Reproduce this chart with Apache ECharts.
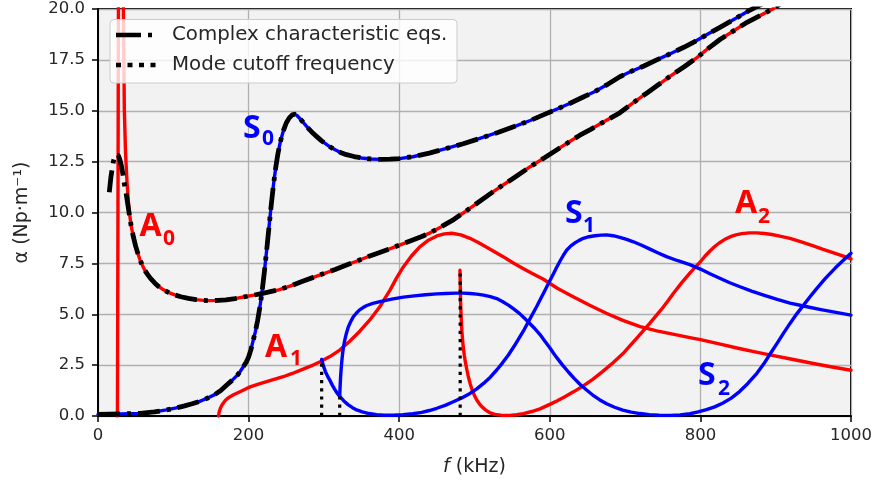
<!DOCTYPE html>
<html>
<head>
<meta charset="utf-8">
<script src="https://cdn.jsdelivr.net/npm/echarts@6/dist/echarts.min.js"></script>
<style>
  html, body { margin: 0; padding: 0; background: #ffffff; }
  #chart { width: 875px; height: 487px; }
</style>
</head>
<body>
<div id="chart"></div>
<script>
// Attenuation alpha (Np/m) versus frequency f (kHz) for Lamb-type modes.

// Roots of the complex characteristic equations (drawn dash-dot in black).
const a0Complex = [[15,11.0],[17,11.7],[19,12.2],[21,12.6],[23,12.85],[25,12.9],[27,12.8],[29,12.6],[31,12.3],[33,11.9],[35,11.4],[37.5,10.9],[40,10.3],[42,9.8],[44,9.35],[47,8.8],[50,8.35],[53,7.98],[56,7.65],[59,7.4],[62,7.17],[66,6.95],[70,6.75],[75,6.55],[80,6.38],[87,6.2],[95,6.05],[102,5.95],[110,5.86],[120,5.78],[130,5.72],[140,5.68],[150,5.67],[160,5.68],[170,5.71],[182,5.77],[195,5.86],[207,5.94],[220,6.04],[240,6.2],[255,6.38],[270,6.6],[285,6.8],[300,7.0],[315,7.2],[330,7.42],[345,7.63],[360,7.85],[375,8.05],[390,8.25],[404,8.45],[418,8.65],[430,8.82],[441,9.0],[455,9.28],[470,9.6],[488,10.05],[507,10.55],[524,11.0],[540,11.4],[557,11.82],[574,12.25],[592,12.67],[610,13.1],[625,13.45],[640,13.8],[655,14.1],[670,14.42],[693,14.9],[711,15.4],[730,15.9],[745,16.3],[760,16.7],[778,17.15],[795,17.6],[810,18.05],[826,18.5],[843,18.9],[860,19.3],[878,19.65],[896,20.0],[920,20.6]];
const s0Complex = [[0,0.08],[30,0.1],[56,0.13],[75,0.2],[91,0.3],[104,0.4],[115,0.5],[125,0.6],[135,0.72],[145,0.87],[155,1.05],[163,1.25],[171,1.52],[178,1.75],[185,2.0],[189,2.2],[193,2.42],[197,2.65],[200,2.9],[203,3.25],[206,3.7],[209,4.15],[212,4.7],[215,5.35],[218,6.15],[221,7.1],[224,8.15],[227,9.25],[230,10.35],[233,11.35],[236,12.2],[239,12.9],[242,13.45],[246,14.0],[250,14.4],[254,14.65],[258,14.8],[261,14.83],[264,14.78],[268,14.62],[272,14.45],[279,14.15],[286,13.88],[292,13.68],[297,13.52],[303,13.36],[308,13.23],[315,13.08],[322,12.95],[330,12.84],[340,12.75],[350,12.68],[362,12.63],[375,12.61],[388,12.62],[400,12.65],[418,12.74],[440,12.92],[463,13.15],[485,13.38],[507,13.64],[530,13.92],[551,14.2],[574,14.52],[596,14.87],[612,15.12],[627,15.37],[643,15.65],[660,15.95],[677,16.3],[693,16.67],[709,16.95],[725,17.2],[742,17.5],[760,17.8],[778,18.12],[795,18.45],[810,18.77],[826,19.1],[846,19.52],[866,19.95],[890,20.4]];

// Real-frequency mode branches.
const a0Spike = [[25.8,0],[26.5,10],[27.2,21]];
const a0Head = [[33.5,21],[34.2,18],[35,15],[36.5,13],[38.5,11.5],[41,10.2]];
const a1 = [[160,0],[161,0.2],[162.5,0.38],[164.5,0.53],[166.5,0.64],[169,0.76],[172,0.86],[176,0.96],[180,1.04],[185,1.13],[190,1.22],[196,1.33],[202,1.43],[213,1.57],[225,1.7],[235,1.81],[246,1.93],[258,2.09],[270,2.27],[283,2.46],[295,2.67],[308,2.92],[321,3.24],[334,3.66],[348,4.18],[361,4.72],[374.5,5.38],[381,5.78],[388,6.2],[396,6.75],[405,7.3],[416,7.85],[427,8.3],[438,8.62],[450,8.85],[460,8.95],[470,8.98],[482,8.9],[494,8.73],[505,8.53],[515,8.32],[526,8.08],[538,7.83],[551,7.53],[565,7.24],[578,6.98],[591,6.73],[610,6.28],[631,5.86],[653,5.44],[675,5.05],[697,4.7],[720,4.39],[742,4.18],[765,4.01],[786,3.85],[800,3.75],[825,3.54],[850,3.33],[871,3.16],[892,3.0],[920,2.8],[950,2.58],[975,2.41],[1000,2.25]];
const a2 = [[480.7,7.17],[481.2,6.3],[481.6,5.5],[482.3,4.85],[483,4.3],[484,3.8],[485,3.4],[486.5,2.97],[488,2.62],[490,2.25],[491.8,1.93],[494.5,1.56],[497,1.27],[500,1.0],[503,0.79],[506.5,0.6],[510,0.45],[515,0.29],[520,0.17],[527,0.08],[535,0.04],[547,0.03],[556,0.06],[565,0.12],[576,0.22],[587,0.35],[600,0.57],[610,0.75],[620,0.95],[632,1.2],[644.5,1.48],[657,1.8],[670,2.18],[684,2.62],[697.6,3.08],[706,3.43],[715,3.8],[724,4.18],[733,4.56],[741,4.92],[750,5.32],[757,5.66],[764,6.02],[775,6.54],[786,7.02],[793,7.3],[800,7.58],[806,7.85],[813,8.12],[819,8.33],[825,8.5],[832,8.67],[839,8.8],[847,8.9],[855,8.96],[865,9.0],[875,9.0],[885,8.97],[895,8.92],[907,8.83],[919,8.73],[934,8.56],[950,8.36],[962,8.2],[975,8.04],[987,7.89],[1000,7.72]];
const s1 = [[297,2.78],[299.5,2.45],[302,2.18],[305,1.95],[308,1.75],[311,1.53],[314,1.33],[317.5,1.13],[321,0.96],[326.5,0.74],[332,0.56],[338,0.41],[343.5,0.3],[351,0.2],[360,0.12],[370,0.07],[380,0.04],[392,0.04],[405,0.06],[418,0.11],[430,0.18],[440,0.27],[450,0.38],[461,0.52],[472,0.7],[483,0.89],[494,1.11],[503,1.33],[512,1.6],[521,1.91],[529.5,2.26],[537,2.6],[545,3.0],[553,3.45],[560,3.88],[566,4.25],[572,4.66],[577,5.0],[582.6,5.38],[588,5.77],[593,6.13],[599,6.57],[604.7,6.98],[609,7.3],[614,7.64],[618,7.9],[622,8.13],[628,8.36],[633,8.5],[639,8.63],[644.5,8.73],[652,8.81],[660,8.86],[668,8.89],[675.5,8.9],[684,8.86],[693,8.78],[702,8.68],[711,8.56],[722,8.39],[733,8.2],[744,8.01],[755,7.83],[770,7.63],[786,7.44],[800,7.22],[812,7.0],[825,6.78],[839,6.55],[852.6,6.35],[868,6.14],[885,5.93],[902,5.73],[919,5.55],[940,5.38],[960,5.23],[980,5.09],[1000,4.96]];
const s2 = [[321,1.0],[321.6,1.5],[322.2,1.95],[323,2.35],[323.8,2.7],[324.8,3.05],[326,3.4],[328,3.78],[330,4.08],[332.5,4.38],[335.5,4.63],[339,4.87],[343,5.05],[347,5.2],[352,5.33],[357,5.43],[365,5.53],[374.5,5.62],[390,5.74],[405.5,5.84],[420,5.9],[435,5.96],[450,6.0],[462,6.02],[475,6.04],[485,6.04],[494,6.02],[503,5.99],[512,5.94],[521,5.87],[529.5,5.77],[537,5.63],[545,5.45],[552,5.26],[560,5.03],[566,4.82],[573,4.56],[580,4.3],[587,4.0],[593,3.7],[600,3.35],[605,3.08],[609,2.88],[617,2.5],[625,2.15],[632,1.86],[640,1.56],[648,1.3],[657,1.03],[666,0.8],[675.5,0.6],[686,0.43],[697,0.29],[708,0.19],[720,0.12],[732,0.07],[745,0.04],[760,0.03],[773,0.05],[786,0.11],[797,0.2],[808,0.31],[819,0.45],[830,0.64],[841,0.88],[852,1.2],[863,1.6],[875,2.1],[884,2.55],[893,3.07],[902,3.58],[910,4.05],[919,4.55],[928,5.02],[937,5.45],[945.6,5.86],[953,6.2],[960,6.5],[966,6.76],[972,7.0],[979,7.27],[986,7.52],[993,7.76],[1000,8.0]];

// Mode cutoff frequencies and the alpha where each branch starts.
const cutoffF = [297, 321, 481];
const cutoffAlpha = [2.78, 1.05, 7.2];

const xTicks = [0, 200, 400, 600, 800, 1000];
const yTicks = [0, 2.5, 5, 7.5, 10, 12.5, 15, 17.5, 20];

const RED = '#ff0000', BLUE = '#0000ff', INK = '#262626';
const TICK_FONT = 'DejaVu Sans';

// A0 underlay: steep branch joining the complex-root curve.
const a0Real = a0Head.concat(a0Complex.filter(p => p[0] >= 44));

function solid(name, data, color) {
  return {
    name, type: 'line', data, symbol: 'none', showSymbol: false, z: 2,
    smooth: false,
    lineStyle: { color, width: 3.4, cap: 'round', join: 'round' },
    animation: false, silent: true
  };
}
function dashDot(name, data) {
  return {
    name, type: 'line', data, symbol: 'none', showSymbol: false, z: 3,
    smooth: false,
    lineStyle: { color: '#000', width: 4.8, type: [22, 7, 4, 7], cap: 'butt', join: 'round' },
    animation: false, silent: true
  };
}

const cutoffSeries = cutoffF.map((f, i) => ({
  name: 'cutoff' + i, type: 'line', symbol: 'none', z: 4,
  data: [[f, 0], [f, cutoffAlpha[i]]],
  lineStyle: { color: '#000', width: 3.2, type: [3.2, 5], cap: 'butt' },
  animation: false, silent: true
}));

const modeLabels = [
  { m: 'S', s: '0', color: BLUE, x: 243, y: 128.5, sx: 262, sy: 139.5 },
  { m: 'A', s: '0', color: RED,  x: 139.5, y: 226.7, sx: 163, sy: 239.5 },
  { m: 'A', s: '1', color: RED,  x: 265, y: 347.5, sx: 290, sy: 359.5 },
  { m: 'S', s: '1', color: BLUE, x: 565, y: 214, sx: 583, sy: 226.3 },
  { m: 'A', s: '2', color: RED,  x: 735, y: 203.5, sx: 758, sy: 216.7 },
  { m: 'S', s: '2', color: BLUE, x: 698, y: 375.8, sx: 718, sy: 389 }
];
const labelGraphics = [];
modeLabels.forEach(l => {
  labelGraphics.push({
    type: 'text', z: 50, silent: true,
    style: { text: l.m, x: l.x, y: l.y, fill: l.color, align: 'left', verticalAlign: 'middle',
             font: 'bold 32px "Noto Sans"' }
  });
  labelGraphics.push({
    type: 'text', z: 50, silent: true,
    style: { text: l.s, x: l.sx, y: l.sy, fill: l.color, align: 'left', verticalAlign: 'middle',
             font: 'bold 21px "Noto Sans"' }
  });
});

const legendGraphics = [
  { type: 'rect', z: 100, silent: true,
    shape: { x: 110, y: 19.5, width: 347, height: 63.5, r: 4 },
    style: { fill: 'rgba(255,255,255,0.8)', stroke: '#cccccc', lineWidth: 1 } },
  { type: 'line', z: 101, silent: true,
    shape: { x1: 116, y1: 35, x2: 152, y2: 35 },
    style: { stroke: '#000', lineWidth: 4.5, lineDash: [25, 7, 4, 20], lineCap: 'butt' } },
  { type: 'line', z: 101, silent: true,
    shape: { x1: 116, y1: 65, x2: 156, y2: 65 },
    style: { stroke: '#000', lineWidth: 4.5, lineDash: [5, 6.5], lineCap: 'butt' } },
  { type: 'text', z: 101, silent: true,
    style: { text: 'Complex characteristic eqs.', x: 172, y: 35, align: 'left', verticalAlign: 'middle',
             font: '19.8px "DejaVu Sans"', fill: INK } },
  { type: 'text', z: 101, silent: true,
    style: { text: 'Mode cutoff frequency', x: 172, y: 65, align: 'left', verticalAlign: 'middle',
             font: '19.8px "DejaVu Sans"', fill: INK } }
];

const chart = echarts.init(document.getElementById('chart'), null, { renderer: 'canvas' });
chart.setOption({
  animation: false,
  backgroundColor: '#ffffff',
  grid: {
    left: 98, right: 24, top: 9, bottom: 71,
    show: true, backgroundColor: '#f2f2f2', borderColor: '#000', borderWidth: 2,
    containLabel: false, outerBoundsMode: 'none'
  },
  xAxis: {
    type: 'value', min: xTicks[0], max: xTicks[xTicks.length - 1], interval: xTicks[1] - xTicks[0],
    axisLine: { show: true, onZero: false, lineStyle: { color: '#000', width: 2 } },
    axisTick: { show: true, length: 6, lineStyle: { color: '#000', width: 1.5 } },
    axisLabel: { fontSize: 16.5, color: INK, fontFamily: TICK_FONT, margin: 11,
                 formatter: v => String(v) },
    splitLine: { show: true, lineStyle: { color: '#b0b0b0', width: 1.3 } },
    name: '{i|f} (kHz)', nameLocation: 'middle', nameGap: 42,
    nameTextStyle: { fontSize: 19, color: INK, fontFamily: TICK_FONT,
      rich: { i: { fontStyle: 'italic', fontSize: 19, color: INK, fontFamily: TICK_FONT } } }
  },
  yAxis: {
    type: 'value', min: yTicks[0], max: yTicks[yTicks.length - 1], interval: yTicks[1] - yTicks[0],
    axisLine: { show: true, onZero: false, lineStyle: { color: '#000', width: 2 } },
    axisTick: { show: true, length: 6, lineStyle: { color: '#000', width: 1.5 } },
    axisLabel: { fontSize: 16.5, color: INK, fontFamily: TICK_FONT, margin: 13,
                 formatter: v => v.toFixed(1) },
    splitLine: { show: true, lineStyle: { color: '#b0b0b0', width: 1.3 } },
    name: 'α (Np·m⁻¹)', nameLocation: 'middle', nameGap: 66, nameRotate: 90,
    nameTextStyle: { fontSize: 19, color: INK, fontFamily: TICK_FONT }
  },
  series: [
    solid('A0 spike', a0Spike, RED),
    solid('A0', a0Real, RED),
    solid('A1', a1, RED),
    solid('A2', a2, RED),
    solid('S0', s0Complex, BLUE),
    solid('S1', s1, BLUE),
    solid('S2', s2, BLUE),
    dashDot('A0 complex', a0Complex),
    dashDot('S0 complex', s0Complex)
  ].concat(cutoffSeries),
  graphic: legendGraphics.concat(labelGraphics)
});
</script>
</body>
</html>
